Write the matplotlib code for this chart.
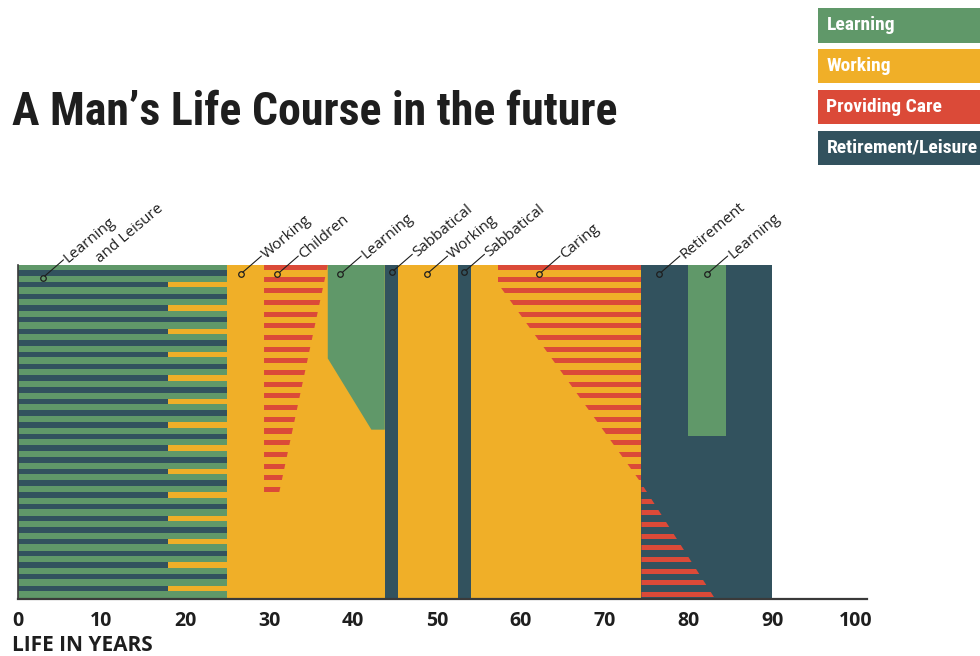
import matplotlib
matplotlib.use("Agg")
import matplotlib.pyplot as plt
from matplotlib.patches import Polygon, Rectangle

OUT_FILE = "out.png"

# colours
GREEN = "#609869"
ORANGE = "#f0af28"
RED = "#db4a38"
DARK = "#32525e"
INK = "#1e1e1e"

NARROW = ["Roboto Condensed", "Liberation Sans Narrow", "Roboto"]

LEGEND_LABELS = ["Learning", "Working", "Providing Care", "Retirement/Leisure"]
LEGEND_COLORS = [GREEN, ORANGE, RED, DARK]

X_TICKS = [0, 10, 20, 30, 40, 50, 60, 70, 80, 90, 100]

# life course in years of age
LIFE_END = 90
EARLY_END = 25           # learning and leisure
EARLY_JOBS_START = 18    # side jobs inside the striped block
SABBATICAL_1 = [43.8, 45.4]
SABBATICAL_2 = [52.5, 54.1]
RETIREMENT_START = 74.4
LATE_LEARNING = [79.9, 84.5]
LATE_LEARNING_DEPTH = 14.65

# chart depth, counted in stripes from the top
DEPTH = 28.6
N_STRIPES = 29

# shapes as (years, depth)
CHILDREN_YEARS = [29.4, 37.0, 31.2, 29.4]
CHILDREN_DEPTH = [0, 0, 19.5, 19.5]
MID_LEARNING_YEARS = [37.0, 43.8, 43.8, 42.2, 37.0]
MID_LEARNING_DEPTH = [0, 0, 14.1, 14.1, 8.0]
CARING_YEARS = [57.25, 74.4, 74.4, 57.6, 57.25]
CARING_DEPTH = [0, 0, 18.7, 1.9, 1.9]
LATE_CARING_YEARS = [74.4, 83.2, 74.4]
LATE_CARING_DEPTH = [18.7, DEPTH, DEPTH]

# call-outs
LABEL_TEXTS = ["Learning", "Working", "Children", "Learning", "Sabbatical",
               "Working", "Sabbatical", "Caring", "Retirement", "Learning"]
LABEL_YEARS = [3.0, 26.6, 31.0, 38.5, 44.6, 48.8, 53.2, 62.2, 76.5, 82.2]
LABEL_DEPTH = [1.1, 0.78, 0.78, 0.78, 0.63, 0.78, 0.63, 0.78, 0.78, 0.78]


def striped(ax, years, depth, color):
    # red stripes clipped to a polygon
    clip = Polygon(list(zip(years, depth)), closed=True, facecolor="none",
                   edgecolor="none", transform=ax.transData)
    ax.add_patch(clip)
    left = min(years)
    width = max(years) - left
    bars = ax.barh(range(N_STRIPES), width, height=0.43, left=left,
                   color=color, align="edge", linewidth=0)
    for b in bars:
        b.set_clip_path(clip)


fig = plt.figure(figsize=(9.8, 6.56), dpi=100)
ax = fig.add_axes([17.5 / 980, 57 / 656, 849.5 / 980, 334 / 656])

# backgrounds
ax.barh(0, EARLY_END, height=DEPTH, left=0, color=GREEN, align="edge", linewidth=0)
ax.barh(0, RETIREMENT_START - EARLY_END, height=DEPTH, left=EARLY_END,
        color=ORANGE, align="edge", linewidth=0)
ax.barh(0, LIFE_END - RETIREMENT_START, height=DEPTH, left=RETIREMENT_START,
        color=DARK, align="edge", linewidth=0)

# learning and leisure stripes, every second one with a job from 18
for k in range(N_STRIPES - 1):
    y = k + 0.45
    if k % 2 == 1:
        ax.barh(y, EARLY_JOBS_START, height=0.47, left=0, color=DARK,
                align="edge", linewidth=0)
        ax.barh(y, EARLY_END - EARLY_JOBS_START, height=0.47,
                left=EARLY_JOBS_START, color=ORANGE, align="edge", linewidth=0)
    else:
        ax.barh(y, EARLY_END, height=0.47, left=0, color=DARK,
                align="edge", linewidth=0)

striped(ax, CHILDREN_YEARS, CHILDREN_DEPTH, RED)
ax.add_patch(Polygon(list(zip(MID_LEARNING_YEARS, MID_LEARNING_DEPTH)),
                     closed=True, color=GREEN, linewidth=0))

for s in [SABBATICAL_1, SABBATICAL_2]:
    ax.barh(0, s[1] - s[0], height=DEPTH, left=s[0], color=DARK,
            align="edge", linewidth=0)

striped(ax, CARING_YEARS, CARING_DEPTH, RED)
striped(ax, LATE_CARING_YEARS, LATE_CARING_DEPTH, RED)

ax.barh(0, LATE_LEARNING[1] - LATE_LEARNING[0], height=LATE_LEARNING_DEPTH,
        left=LATE_LEARNING[0], color=GREEN, align="edge", linewidth=0)

# call-outs
for i, (text, year, depth) in enumerate(zip(LABEL_TEXTS, LABEL_YEARS, LABEL_DEPTH)):
    ax.annotate("", xy=(year, depth), xytext=(15, 13), textcoords="offset points",
                arrowprops=dict(arrowstyle="-", color=INK, lw=0.8,
                                shrinkA=0, shrinkB=2),
                annotation_clip=False)
    ax.plot(year, depth, "o", ms=4, mfc="none", mec=INK, mew=0.9, clip_on=False)
    ax.annotate(text, xy=(year, depth), xytext=(16, 14), textcoords="offset points",
                rotation=40, rotation_mode="anchor", ha="left",
                va="center_baseline", fontsize=11, family="Open Sans",
                color=INK, annotation_clip=False)
    if i == 0:
        ax.annotate("and Leisure", xy=(year, depth), xytext=(39, 14),
                    textcoords="offset points", rotation=40,
                    rotation_mode="anchor", ha="left", va="center_baseline",
                    fontsize=11, family="Open Sans", color=INK,
                    annotation_clip=False)

# axes
ax.set_xlim(0, 101.3)
ax.set_ylim(DEPTH, 0)
ax.set_yticks([])
ax.set_xticks(X_TICKS)
ax.tick_params(axis="x", length=0, pad=9, labelsize=14, labelcolor=INK)
for lab in ax.get_xticklabels():
    lab.set_fontweight("bold")
    lab.set_family("Open Sans")
for side in ["top", "right"]:
    ax.spines[side].set_visible(False)
ax.spines["left"].set_color("#3a3a3a")
ax.spines["left"].set_linewidth(1.2)
ax.spines["bottom"].set_color("#3a3a3a")
ax.spines["bottom"].set_linewidth(1.6)
ax.patch.set_alpha(0)

fig.text(12 / 980, 1 - 651 / 656, "LIFE IN YEARS", fontsize=15,
         fontweight="bold", family="Open Sans", color=INK, va="baseline")

fig.text(12 / 980, 1 - 125 / 656, "A Man\u2019s Life Course in the future",
         fontsize=33, fontweight="bold", family=NARROW, color=INK,
         va="baseline")

# legend boxes
for i, (label, color) in enumerate(zip(LEGEND_LABELS, LEGEND_COLORS)):
    top = 8.3 + i * 40.8
    fig.add_artist(Rectangle((818 / 980, 1 - (top + 34.2) / 656), 0.2, 34.2 / 656,
                             transform=fig.transFigure, color=color, linewidth=0))
    fig.text(826.5 / 980, 1 - (top + 17.1) / 656, label, fontsize=14,
             fontweight="bold", family=NARROW, color="white", va="center")

fig.savefig(OUT_FILE, dpi=100)
